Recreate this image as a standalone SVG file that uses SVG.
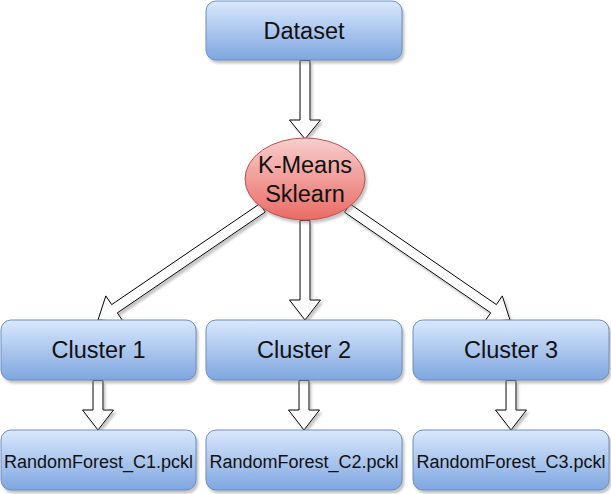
<svg xmlns="http://www.w3.org/2000/svg" width="611" height="494" viewBox="0 0 611 494">
<defs>
<linearGradient id="gBlue" x1="0" y1="0" x2="0" y2="1">
<stop offset="0" stop-color="#dae8fc"/>
<stop offset="1" stop-color="#7ea6e0"/>
</linearGradient>
<linearGradient id="gRed" x1="0" y1="0" x2="0" y2="1">
<stop offset="0" stop-color="#f8cecc"/>
<stop offset="1" stop-color="#ea6b66"/>
</linearGradient>
<filter id="shadow" x="-10%" y="-10%" width="130%" height="130%">
<feGaussianBlur in="SourceAlpha" stdDeviation="0.8" result="b"/>
<feOffset in="b" dx="2" dy="3" result="o"/>
<feFlood flood-color="#808080" flood-opacity="0.45"/>
<feComposite in2="o" operator="in" result="s"/>
<feMerge><feMergeNode in="s"/><feMergeNode in="SourceGraphic"/></feMerge>
</filter>
</defs>
<style>
.box{fill:url(#gBlue);stroke:#6c8ebf;stroke-width:1;filter:url(#shadow)}
.ell{fill:url(#gRed);stroke:#b85450;stroke-width:1;filter:url(#shadow)}
.arr{fill:#ffffff;stroke:#000000;stroke-width:1;stroke-linejoin:miter;filter:url(#shadow)}
.t{font-family:"Liberation Sans",Arial,sans-serif;fill:#111111;text-anchor:middle}
.big{font-size:23.5px}
.small{font-size:18px}
</style>
<g id="connectors">
<polygon class="arr" points="300,60.5 300,120 289.5,120 305,139 320.5,120 310,120 310,60.5"/>
<polygon class="arr" points="300,220.5 300,300 289.5,300 305,320 320.5,300 310,300 310,220.5"/>
<polygon class="arr" points="265.3,212.0 117.3,312.9 123.2,321.5 98,320 105.8,295.9 111.7,304.6 259.7,203.8"/>
<polygon class="arr" points="344.5,212.2 490.7,312.8 484.7,321.4 510,320 502.3,295.9 496.4,304.6 350.1,204.0"/>
<polygon class="arr" points="93,380.5 93,410 82.5,410 98,430 113.5,410 103,410 103,380.5"/>
<polygon class="arr" points="299,380.5 299,410 288.5,410 304,430 319.5,410 309,410 309,380.5"/>
<polygon class="arr" points="506,380.5 506,410 495.5,410 511,430 526.5,410 516,410 516,380.5"/>
</g>
<g id="dataset">
<rect class="box" x="206" y="1" width="196" height="59" rx="10"/>
<text class="t big" x="304" y="39">Dataset</text>
</g>
<g id="kmeans">
<ellipse class="ell" cx="305" cy="179" rx="60" ry="41"/>
<text class="t big" x="305" y="173">K-Means</text>
<text class="t big" x="305" y="202">Sklearn</text>
</g>
<g id="cluster1">
<rect class="box" x="1" y="320" width="195" height="60" rx="10"/>
<text class="t big" x="98.5" y="358">Cluster 1</text>
</g>
<g id="cluster2">
<rect class="box" x="206" y="320" width="196" height="60" rx="10"/>
<text class="t big" x="304" y="358">Cluster 2</text>
</g>
<g id="cluster3">
<rect class="box" x="413" y="320" width="196" height="60" rx="10"/>
<text class="t big" x="511" y="358">Cluster 3</text>
</g>
<g id="rf1">
<rect class="box" x="1" y="430" width="195" height="60" rx="10"/>
<text class="t small" x="98.5" y="468">RandomForest_C1.pckl</text>
</g>
<g id="rf2">
<rect class="box" x="206" y="430" width="196" height="60" rx="10"/>
<text class="t small" x="304" y="468">RandomForest_C2.pckl</text>
</g>
<g id="rf3">
<rect class="box" x="413" y="430" width="196" height="60" rx="10"/>
<text class="t small" x="511" y="468">RandomForest_C3.pckl</text>
</g>
</svg>
